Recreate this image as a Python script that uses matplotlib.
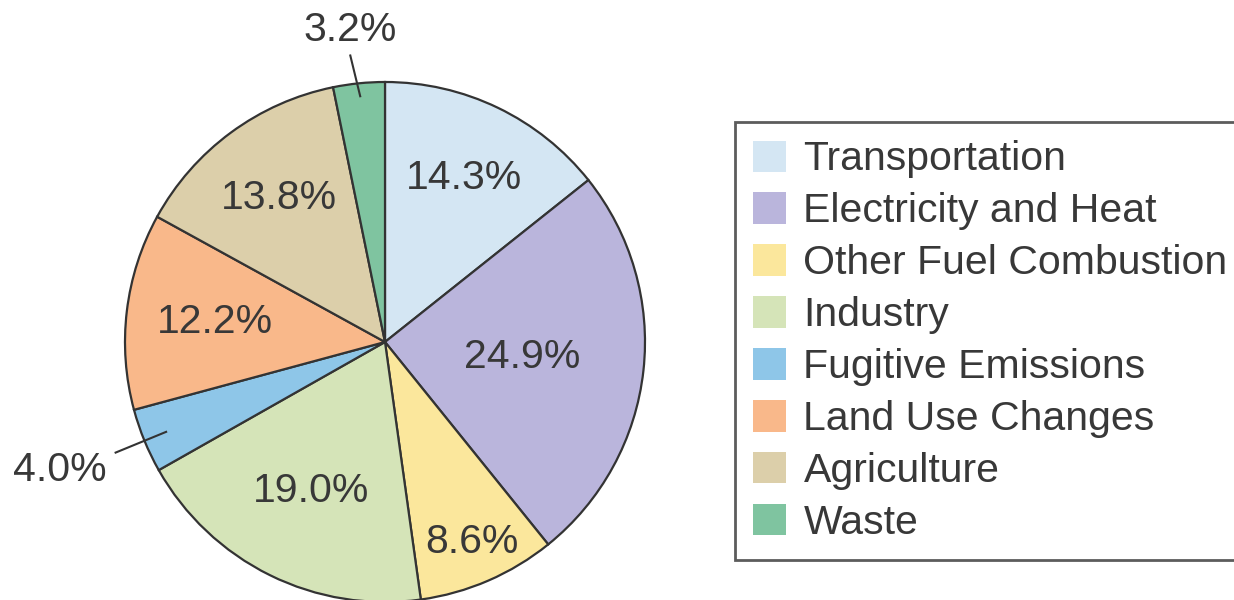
import numpy as np
import matplotlib.pyplot as plt

plt.rcParams['font.family'] = ['Liberation Sans', 'DejaVu Sans']

# Datos del grafico
sectores = ['Transportation', 'Electricity and Heat', 'Other Fuel Combustion',
            'Industry', 'Fugitive Emissions', 'Land Use Changes',
            'Agriculture', 'Waste']
porcentajes = [14.3, 24.9, 8.6, 19.0, 4.0, 12.2, 13.8, 3.2]
colores = ['#d4e6f3', '#bab5dc', '#fbe79c', '#d5e4b8',
           '#8ec6e8', '#f9b88a', '#dccfaa', '#7fc4a0']

# Distancia de cada etiqueta al centro (en radios); None = etiqueta afuera
dist_etiqueta = [0.70, 0.53, 0.84, 0.64, None, 0.66, 0.69, None]

W, H = 1234, 600
cx, cy, R = 385, 258, 260   # centro y radio en pixeles (desde abajo)
gris = '#383838'

fig = plt.figure(figsize=(W / 100, H / 100), dpi=100)
ax = fig.add_axes([0, 0, 1, 1])

wedges, _ = ax.pie(porcentajes, colors=colores, startangle=90, counterclock=False,
                   wedgeprops=dict(edgecolor='#333333', linewidth=1.6))

ax.set_xlim(-cx / R, (W - cx) / R)
ax.set_ylim(-cy / R, (H - cy) / R)
ax.set_aspect('equal')
ax.axis('off')

txt = dict(fontsize=29.5, color=gris, ha='center', va='center')
for w, p, d in zip(wedges, porcentajes, dist_etiqueta):
    ang = np.deg2rad((w.theta1 + w.theta2) / 2)
    if d is not None:
        ax.text(d * np.cos(ang), d * np.sin(ang), f'{p:.1f}%', **txt)

# Etiquetas externas con linea guia
ang_w = np.deg2rad((wedges[7].theta1 + wedges[7].theta2) / 2)
ax.plot([0.95 * np.cos(ang_w), 1.11 * np.cos(ang_w + 0.02)],
        [0.95 * np.sin(ang_w), 1.11 * np.sin(ang_w + 0.02)], color='#333333', lw=1.5)
ax.text(1.21 * np.cos(ang_w + 0.035) + 0.03, 1.21 * np.sin(ang_w + 0.035),
        f'{porcentajes[7]:.1f}%', **txt)

ang_f = np.deg2rad((wedges[4].theta1 + wedges[4].theta2) / 2)
ax.plot([0.91 * np.cos(ang_f), 1.12 * np.cos(ang_f)],
        [0.91 * np.sin(ang_f), 1.12 * np.sin(ang_f)], color='#333333', lw=1.5)
ax.text(1.15 * np.cos(ang_f) - 0.005, 1.15 * np.sin(ang_f) - 0.055,
        f'{porcentajes[4]:.1f}%', fontsize=29.5, color=gris, ha='right', va='center')

leg = fig.legend(wedges, sectores, loc='upper left',
                 bbox_to_anchor=(735 / W, 1 - 122 / H), bbox_transform=fig.transFigure,
                 fontsize=29.5, frameon=True, fancybox=False, borderaxespad=0,
                 handlelength=0.8, handleheight=0.8, handletextpad=0.42,
                 labelspacing=0.34, borderpad=0.45)
leg.get_frame().set_edgecolor('#333333')
leg.get_frame().set_linewidth(2)
for t in leg.get_texts():
    t.set_color(gris)
for h in leg.legend_handles:
    h.set_edgecolor('none')

plt.savefig('out.png', dpi=100)
